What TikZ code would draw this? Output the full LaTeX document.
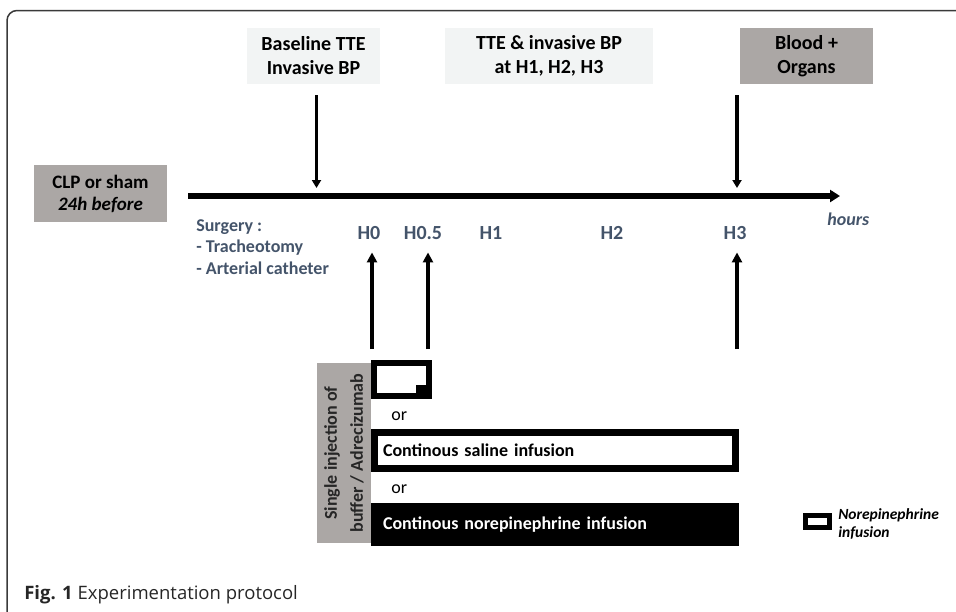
\documentclass[tikz,border=0pt]{standalone}
\usepackage{fontspec}
\setmainfont{Carlito}
\newfontfamily\capfont{Open Sans}
\usetikzlibrary{arrows.meta,positioning}
\definecolor{boxgray}{HTML}{ABA7A5}
\definecolor{lightbox}{HTML}{F2F4F4}
\definecolor{slate}{HTML}{44546A}
\definecolor{framegray}{HTML}{3A3A3A}

\begin{document}
\begin{tikzpicture}[x=1pt,y=-1pt,semithick,
  topbox/.style={minimum height=56pt,inner sep=0pt,align=center,font=\bfseries\fontsize{20}{24}\selectfont},
  hlab/.style={inner sep=0pt,text=slate,font=\bfseries\fontsize{20}{24}\selectfont},
  downarr/.style={line width=3.5pt,-{Triangle[length=8pt,width=9pt]}},
  uparr/.style={line width=4pt,-{Triangle[length=10pt,width=10pt]}},
  ortext/.style={anchor=west,inner sep=0pt,font=\fontsize{18}{21}\selectfont},
  infbox/.style={inner ysep=0pt,align=left,font=\bfseries\fontsize{18}{21}\selectfont}]
\useasboundingbox (0,0) rectangle (956,611);
\draw[framegray,line width=1.5pt,rounded corners=10pt] (962,10.5) -- (7,10.5) -- (7,617);
\node[topbox,fill=lightbox,minimum width=133pt] (base) at (313.5,56) {Baseline TTE\\Invasive BP};
\node[topbox,fill=lightbox,minimum width=208pt] (tte) at (549,56) {TTE \& invasive BP\\at H1, H2, H3};
\node[topbox,fill=boxgray,minimum width=133pt] (blood) at (806.5,56) {Blood +\\Organs};
\node[topbox,fill=boxgray,minimum width=133pt,minimum height=57pt,font=\bfseries\fontsize{19}{22}\selectfont] (clp) at (100.5,193.5) {CLP or sham\\\itshape 24h before};
\coordinate (t0) at (188,196);
\coordinate (t1) at (840,196);
\draw[line width=6pt,-{Triangle[length=10pt,width=12pt]}] (t0) -- (t1);
\node[anchor=west,inner sep=0pt,text=slate,font=\bfseries\itshape\fontsize{18}{21}\selectfont] (hours) at (827,219) {hours};
\node[anchor=north west,inner sep=0pt,align=left,text=slate,font=\bfseries\fontsize{18}{21.5}\selectfont] (surg) at (196,219) {Surgery :\\- Tracheotomy\\- Arterial catheter};
\node[hlab] (h0) at (369,233) {H0};
\node[hlab] (h05) at (423,233) {H0.5};
\node[hlab] (h1) at (491,233) {H1};
\node[hlab] (h2) at (612,233) {H2};
\node[hlab] (h3) at (735,233) {H3};
\coordinate (u0) at (372,349);
\coordinate (u05) at (428,349);
\coordinate (u3) at (737,349);
\draw[downarr,shorten <=11pt,shorten >=8pt] ([xshift=3pt]base.south) -- ([xshift=3pt]base.south |- t0);
\draw[downarr,shorten <=11pt,shorten >=8pt] (blood.south -| u3) -- (u3 |- t0);
\draw[uparr,shorten >=12.5pt] (u0) -- (u0 |- h0.south);
\draw[uparr,shorten >=12.5pt] (u05) -- (u05 |- h05.south);
\draw[uparr,shorten >=12.5pt] (u3) -- (u3 |- h3.south);
\node[fill=boxgray,rotate=90,minimum width=180pt,minimum height=54pt,inner sep=0pt,align=center,text=black!85,font=\bfseries\fontsize{18}{26}\selectfont] (inj) at (344,453) {Single injection of\\buffer / Adrecizumab};
\node[draw,line width=6pt,minimum width=55pt,minimum height=33pt,inner sep=0pt] (bolus) at (401.5,379.5) {};
\fill ([shift={(-3,-3)}]bolus.south east) rectangle ++(-13,-11);
\node[ortext] (or1) at (391,416) {or};
\node[draw,line width=7pt,minimum width=361pt,minimum height=36pt,inner xsep=8.5pt,text width=344pt,infbox] (saline) at (555,450.5) {Continous saline infusion};
\node[ortext] (or2) at (391,489) {or};
\node[fill=black,text=white,minimum width=368pt,minimum height=43pt,inner xsep=12pt,text width=344pt,infbox] (nore) at (555,524.5) {Continous norepinephrine infusion};
\node[draw,fill=white,line width=5pt,minimum width=24pt,minimum height=12pt,inner sep=0pt] (leg) at (817,521) {};
\node[anchor=west,inner sep=0pt,align=left,font=\bfseries\itshape\fontsize{15.5}{18}\selectfont] (legtxt) at (838,524) {Norepinephrine\\infusion};
\node[anchor=west,inner sep=0pt,text=black!85,font=\capfont\fontsize{18.5}{22}\selectfont] (cap) at (24,595) {\textbf{Fig. 1} Experimentation protocol};
\end{tikzpicture}
\end{document}
